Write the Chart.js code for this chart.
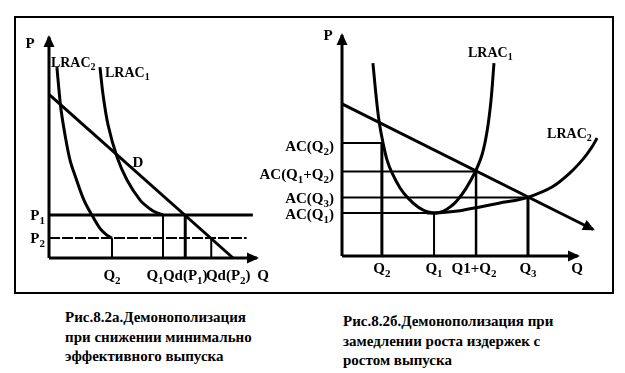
<!DOCTYPE html>
<html><head><meta charset="utf-8">
<script src="https://cdn.jsdelivr.net/npm/chart.js@4.4.0/dist/chart.umd.min.js"></script>
<style>
html,body{margin:0;padding:0;background:#fff;}
body{width:625px;height:373px;position:relative;overflow:hidden;font-family:"Liberation Serif","Tinos","Times New Roman","DejaVu Serif",serif;}
#frame{position:absolute;left:14px;top:16px;width:600px;height:278px;box-sizing:border-box;border:2px solid #000;}
canvas{position:absolute;}
#cL{left:16px;top:18px;}
#cR{left:250px;top:18px;}
.cap{position:absolute;font-weight:bold;font-size:15px;line-height:19.5px;font-family:"Liberation Serif","Tinos","Times New Roman","DejaVu Serif",serif;color:#000;white-space:nowrap;}
</style></head>
<body>
<div id="frame"></div>
<canvas id="cL" width="290" height="274"></canvas>
<canvas id="cR" width="362" height="274"></canvas>
<div class="cap" style="left:65px;top:308px">Рис.8.2а.Демонополизация<br>при снижении минимально<br>эффективного выпуска</div>
<div class="cap" style="left:343px;top:312px">Рис.8.2б.Демонополизация при<br>замедлении роста издержек с<br>ростом выпуска</div>
<script>
// ---------- Left panel data (Рис.8.2а) ----------
const leftDemand = [[0,74],[88.5,0]];
const leftLRAC1 = [[24.5,86.4],[26.0,73.8],[28.4,60.2],[32.7,45.7],[37.5,35.3],[43.8,26.2],[48.6,22.2],[51.9,20.4],[54.8,19.5]];
const leftLRAC2 = [[3.8,86.4],[4.8,76.0],[5.8,67.0],[7.7,55.7],[10.1,44.3],[13.0,36.0],[16.8,26.2],[20.7,19.3],[24.5,13.4],[27.5,10.6],[30.3,9.0]];
const leftPriceNames = ['P_1','P_2'];
const leftPriceValues = [19.5, 9.0];
const leftPriceLineEnds = [98, 95];
const leftQNames = ['Q_2','Q_1','Qd(P_1)','Qd(P_2)'];
const leftQValues = [30.3, 54.8, 65.5, 78.0];
const leftQLevels = [9.0, 19.5, 19.5, 9.0];

// ---------- Right panel data (Рис.8.2б) ----------
const rightDemand = [[0,68.8],[106.4,12.0]];
const rightLRAC1 = [[13.1,87.3],[14.4,72.9],[15.7,61.1],[17.4,51.1],[19.1,43.4],[21.2,37.6],[24.6,30.8],[28.0,26.2],[32.2,22.2],[36.4,19.9],[39.4,19.5],[42.8,20.2],[46.2,22.5],[48.7,25.0],[52.5,30.5],[56.4,38.0],[59.3,45.7],[61.4,56.0],[63.1,70.0],[64.4,87.3]];
const rightLRAC2 = [[36.0,19.5],[41.5,19.6],[50.0,20.5],[58.5,22.2],[66.9,24.0],[73.3,25.1],[78.8,26.5],[89.0,31.2],[96.6,37.6],[102.5,44.3],[105.9,49.3],[108.1,53.4]];
const rightQNames = ['Q_2','Q_1','Q1+Q_2','Q_3'];
const rightQValues = [16.9, 39.0, 56.8, 78.8];
const rightACNames = ['AC(Q_2)','AC(Q_1)','AC(Q_1+Q_2)','AC(Q_3)'];
const rightACValues = [51.1, 19.5, 38.2, 26.5];

// ---------- helpers ----------
const FONT = '"Liberation Serif","Tinos","Times New Roman","DejaVu Serif",serif';
function pts(a){ return a.map(p=>({x:p[0],y:p[1]})); }
function seg(a, w, extra){
  return Object.assign({data:pts(a), showLine:true, borderColor:'#000', backgroundColor:'#000',
    borderWidth:w, pointRadius:0, tension:0, clip:false, fill:false, borderCapStyle:'butt'}, extra||{});
}
function curve(a, w){ return seg(a, w, {tension:0.35, borderJoinStyle:'round'}); }

function parseSub(t){
  const out=[]; let i=0;
  while(i<t.length){
    if(t[i]==='_'){ out.push({s:t[i+1],sub:true}); i+=2; }
    else { let j=i; while(j<t.length && t[j]!=='_') j++; out.push({s:t.slice(i,j),sub:false}); i=j; }
  }
  return out;
}
function drawSub(ctx, text, x, y, align, size){
  const main = 'bold '+size+'px '+FONT, sub = 'bold '+Math.round(size*0.74)+'px '+FONT;
  const segs = parseSub(text);
  let w=0;
  segs.forEach(g=>{ ctx.font=g.sub?sub:main; g.w=ctx.measureText(g.s).width; w+=g.w; });
  let cx = align==='left'? x : align==='right'? x-w : x-w/2;
  ctx.textAlign='left'; ctx.textBaseline='alphabetic'; ctx.fillStyle='#000';
  const base = y + size*0.33;
  segs.forEach(g=>{ ctx.font=g.sub?sub:main; ctx.fillText(g.s, cx, g.sub? base+size*0.27 : base); cx+=g.w; });
}

const arrowPlugin = {
  id:'arrows',
  afterDatasetsDraw(chart){
    const ctx = chart.ctx;
    chart.data.datasets.forEach((ds,i)=>{
      if(!ds.arrow) return;
      const d = chart.getDatasetMeta(i).data;
      const a = d[d.length-2], b = d[d.length-1];
      let dx=b.x-a.x, dy=b.y-a.y; const L=Math.hypot(dx,dy); dx/=L; dy/=L;
      const tx=b.x+dx*2, ty=b.y+dy*2, len=12, hw=5.5;
      const bx=tx-dx*len, by=ty-dy*len;
      ctx.save(); ctx.fillStyle='#000'; ctx.beginPath();
      ctx.moveTo(tx,ty); ctx.lineTo(bx-dy*hw, by+dx*hw); ctx.lineTo(bx+dy*hw, by-dx*hw);
      ctx.closePath(); ctx.fill(); ctx.restore();
    });
  }
};
function textPlugin(labels){
  return {
    id:'texts',
    afterDraw(chart){
      const xs=chart.scales.x, ys=chart.scales.y, ctx=chart.ctx;
      ctx.save();
      labels.forEach(l=>{
        drawSub(ctx, l.t, xs.getPixelForValue(l.x)+(l.dx||0), ys.getPixelForValue(l.y)+(l.dy||0), l.align||'center', l.size||15);
      });
      ctx.restore();
    }
  };
}
function makeChart(id, xmax, pad, datasets, labels){
  return new Chart(document.getElementById(id), {
    type:'scatter',
    data:{datasets},
    options:{
      responsive:false, animation:false, devicePixelRatio:1, events:[],
      layout:{padding:pad},
      plugins:{legend:{display:false}, tooltip:{enabled:false}, title:{display:false}},
      scales:{
        x:{type:'linear', min:0, max:xmax, display:false},
        y:{type:'linear', min:0, max:100, display:false}
      }
    },
    plugins:[arrowPlugin, textPlugin(labels)]
  });
}

// ---------- Left chart ----------
(function(){
  const ds = [];
  ds.push(seg([[0,0],[0,100]],3,{arrow:true}));
  ds.push(seg([[0,0],[100,0]],3,{arrow:true}));
  leftPriceValues.forEach((p,i)=>{
    ds.push(seg([[0,p],[leftPriceLineEnds[i],p]], i===0?3:2, i===0?{}:{borderDash:[11,2]}));
  });
  const vW=[2,2,3,2];
  leftQValues.forEach((q,i)=> ds.push(seg([[q,0],[q,leftQLevels[i]]], vW[i])));
  ds.push(seg(leftDemand,3));
  ds.push(curve(leftLRAC1,3));
  ds.push(curve(leftLRAC2,3));
  const qdx=[0,-8,0,17];
  const labels = [
    {t:'P', x:0, y:100, dx:-19, dy:6},
    {t:'Q', x:100, y:0, dx:6, dy:17},
    {t:'LRAC_2', x:leftLRAC2[0][0], y:leftLRAC2[0][1], dx:-6, dy:-5, align:'left', size:14},
    {t:'LRAC_1', x:leftLRAC1[0][0], y:leftLRAC1[0][1], dx:5, dy:5, align:'left', size:14},
    {t:'D', x:42.8, y:43.4}
  ];
  leftPriceNames.forEach((n,i)=>labels.push({t:n, x:0, y:leftPriceValues[i], dx:-4, align:'right'}));
  leftQNames.forEach((n,i)=>labels.push({t:n, x:leftQValues[i], y:0, dx:qdx[i], dy:17}));
  makeChart('cL', 100, {left:33, top:19, right:49, bottom:34}, ds, labels);
})();

// ---------- Right chart ----------
(function(){
  const ds = [];
  ds.push(seg([[0,0],[0,100]],3,{arrow:true}));
  ds.push(seg([[0,0],[100,0]],3,{arrow:true}));
  rightQValues.forEach((q,i)=>{
    ds.push(seg([[0,rightACValues[i]],[q,rightACValues[i]]],2));
  });
  const vW=[3,2,2.5,3];
  rightQValues.forEach((q,i)=> ds.push(seg([[q,0],[q,rightACValues[i]]], vW[i])));
  ds.push(seg(rightDemand,3,{arrow:true}));
  ds.push(curve(rightLRAC1,3));
  ds.push(curve(rightLRAC2,3));
  const acdy=[3,1,2,1], qdx=[0,0,-2,0];
  const labels = [
    {t:'P', x:0, y:100, dx:-14, dy:0},
    {t:'Q', x:100, y:0, dx:-1, dy:12},
    {t:'LRAC_1', x:53.4, y:92.3, align:'left', size:14},
    {t:'LRAC_2', x:86.9, y:55.7, align:'left', size:14}
  ];
  rightACNames.forEach((n,i)=>labels.push({t:n, x:0, y:rightACValues[i], dx:-8, dy:acdy[i], align:'right'}));
  rightQNames.forEach((n,i)=>labels.push({t:n, x:rightQValues[i], y:0, dx:qdx[i], dy:12}));
  makeChart('cR', 110, {left:92, top:17, right:10.4, bottom:36}, ds, labels);
})();
</script>
</body></html>
